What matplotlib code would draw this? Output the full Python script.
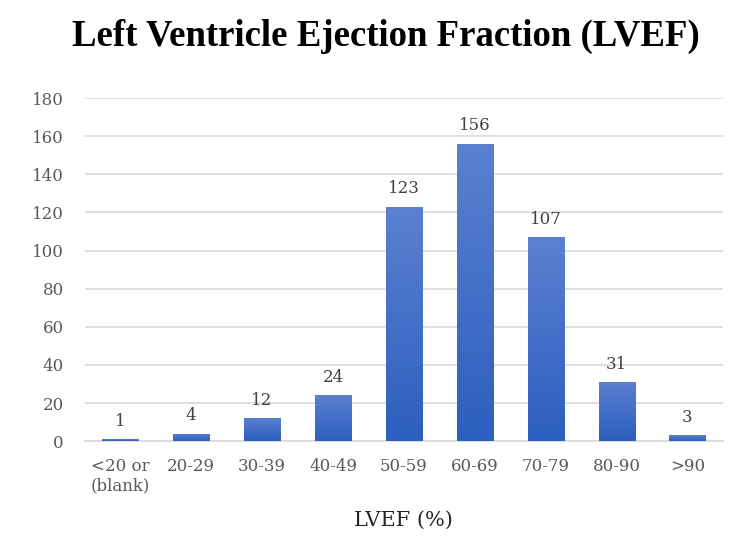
import numpy as np
import matplotlib.pyplot as plt
from matplotlib.colors import LinearSegmentedColormap

categories = ["<20 or\n(blank)", "20-29", "30-39", "40-49", "50-59",
              "60-69", "70-79", "80-90", ">90"]
counts = [1, 4, 12, 24, 123, 156, 107, 31, 3]
yticks = [0, 20, 40, 60, 80, 100, 120, 140, 160, 180]

plt.rcParams["font.family"] = ["DejaVu Serif", "Liberation Serif"]

fig = plt.figure(figsize=(7.5, 5.48), dpi=100)
ax = fig.add_axes([0.113, 0.195, 0.851, 0.626])

x = np.arange(len(categories))
bars = ax.bar(x, counts, width=0.51, color="#4472c4", zorder=2)

# vertical gradient on each bar, lighter at the top
cmap = LinearSegmentedColormap.from_list("blu", ["#2c5fbf", "#5b80d0"])
grad = np.linspace(0, 1, 256).reshape(-1, 1)
for b in bars:
    x0, y0 = b.get_x(), b.get_y()
    w, h = b.get_width(), b.get_height()
    im = ax.imshow(grad, cmap=cmap, origin="lower", aspect="auto",
                   extent=[x0, x0 + w, y0, y0 + h], zorder=3)
    im.set_clip_path(b)

for xi, v in zip(x, counts):
    ax.text(xi, v + 5, str(v), ha="center", va="bottom",
            fontsize=12, color="#404040")

ax.set_xlim(-0.5, len(categories) - 0.5)
ax.set_ylim(0, 180)
ax.set_yticks(yticks)
ax.set_xticks(x)
ax.set_xticklabels(categories)
ax.tick_params(axis="both", length=0, labelsize=12, labelcolor="#595959")
ax.tick_params(axis="x", pad=12)
ax.tick_params(axis="y", pad=15)

ax.yaxis.grid(True, color="#d9d9d9", linewidth=1.2, zorder=0)
ax.set_axisbelow(True)
for s in ["top", "right", "left"]:
    ax.spines[s].set_visible(False)
ax.spines["bottom"].set_color("#d9d9d9")
ax.spines["bottom"].set_linewidth(1.2)

ax.set_xlabel("LVEF (%)", fontsize=15, color="#262626", labelpad=12)
fig.suptitle("Left Ventricle Ejection Fraction (LVEF)", fontsize=26.5,
             fontweight="bold", family="Liberation Serif", x=0.514, y=0.965)

fig.savefig("out.png", dpi=100)
